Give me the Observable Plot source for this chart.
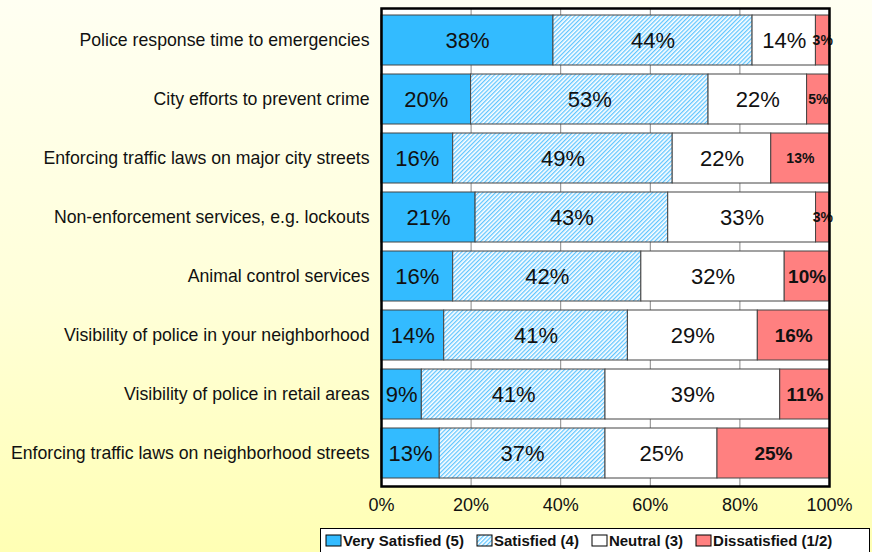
<!DOCTYPE html>
<html>
<head>
<meta charset="utf-8">
<script src="https://cdn.jsdelivr.net/npm/d3@7"></script>
<script src="https://cdn.jsdelivr.net/npm/@observablehq/plot@0.6"></script>
<style>
  html, body { margin: 0; padding: 0; }
  body {
    width: 872px; height: 552px; overflow: hidden;
    background: linear-gradient(to bottom, #fffff2 0%, #ffffd8 55%, #ffffb4 100%);
    font-family: "Liberation Sans", Arial, sans-serif;
  }
  #chart svg { display: block; background: transparent; }
  #legend {
    margin-left: 320px; width: 550px; height: 25px;
    border: 1.5px solid #000; background: #fff;
    display: flex; align-items: center; gap: 12px;
    padding-left: 4px; box-sizing: border-box;
    font: bold 15px "Liberation Sans", Arial, sans-serif; color: #111;
  }
  #legend .item { display: flex; align-items: center; gap: 1px; }
  #legend svg { display: block; }
</style>
</head>
<body>
<div id="chart"></div>
<div id="legend"></div>
<script>
const categories = [
  "Police response time to emergencies",
  "City efforts to prevent crime",
  "Enforcing traffic laws on major city streets",
  "Non-enforcement services, e.g. lockouts",
  "Animal control services",
  "Visibility of police in your neighborhood",
  "Visibility of police in retail areas",
  "Enforcing traffic laws on neighborhood streets"
];
const series = ["Very Satisfied (5)", "Satisfied (4)", "Neutral (3)", "Dissatisfied (1/2)"];
const verySatisfied = [38, 20, 16, 21, 16, 14, 9, 13];
const satisfied     = [44, 53, 49, 43, 42, 41, 41, 37];
const neutral       = [14, 22, 22, 33, 32, 29, 39, 25];
const dissatisfied  = [3, 5, 13, 3, 10, 16, 11, 25];
const xTicks = [0, 20, 40, 60, 80, 100];

const seriesColors = ["#33bbff", "url(#hatchBlue)", "#ffffff", "#ff8080"];
const seriesValues = [verySatisfied, satisfied, neutral, dissatisfied];

const rows = [];
categories.forEach((c, i) => {
  series.forEach((s, j) => {
    rows.push({category: c, series: s, value: seriesValues[j][i]});
  });
});

const stackOpts = (extra) => Plot.stackX({
  x: "value", y: "category", z: "series", offset: "normalize", ...extra
});
const tickFrac = xTicks.map(d => d / 100);

const plot = Plot.plot({
  width: 872,
  height: 528,
  marginLeft: 381,
  marginRight: 43,
  marginTop: 8,
  marginBottom: 42,
  style: {fontFamily: "'Liberation Sans', Arial, sans-serif", background: "transparent", color: "#111"},
  x: {domain: [0, 1]},
  y: {domain: categories, paddingInner: 0.15, paddingOuter: 0.08, label: null},
  color: {domain: series, range: seriesColors},
  marks: [
    Plot.frame({fill: "white", stroke: null}),
    Plot.gridX(tickFrac.slice(1, -1), {stroke: "#888", strokeOpacity: 1, strokeWidth: 1}),
    Plot.barX(rows, stackOpts({fill: "series", stroke: "#444", strokeWidth: 1})),
    Plot.text(rows, stackOpts({
      text: d => d.series !== series[3] ? d.value + "%" : "",
      fontSize: 22, fill: "#111"
    })),
    Plot.text(rows, stackOpts({
      text: d => d.series === series[3] ? d.value + "%" : "",
      fontSize: d => (d.value <= 5 || d.value === 13) ? 14 : 19,
      fontWeight: "bold", fill: "#111"
    })),
    Plot.frame({stroke: "#000", strokeWidth: 2.5}),
    Plot.axisX(tickFrac, {
      tickSize: 0, tickPadding: 12, fontSize: 18, label: null,
      tickFormat: d => Math.round(d * 100) + "%"
    }),
    Plot.axisY({tickSize: 0, tickPadding: 12, fontSize: 17.7, label: null})
  ]
});

// pattern defs for the hatched "Satisfied" series
const ns = "http://www.w3.org/2000/svg";
function addPattern(svg) {
  const defs = document.createElementNS(ns, "defs");
  defs.innerHTML = `
    <pattern id="hatchBlue" patternUnits="userSpaceOnUse" width="3" height="3" patternTransform="rotate(45)">
      <rect width="3" height="3" fill="#ffffff"></rect>
      <line x1="0.7" y1="0" x2="0.7" y2="3" stroke="#44bbff" stroke-width="1.1"></line>
    </pattern>`;
  svg.insertBefore(defs, svg.firstChild);
}
addPattern(plot);
document.getElementById("chart").appendChild(plot);

// legend
const legend = document.getElementById("legend");
series.forEach((s, j) => {
  const item = document.createElement("div");
  item.className = "item";
  const sw = document.createElementNS(ns, "svg");
  sw.setAttribute("width", 17); sw.setAttribute("height", 13);
  const r = document.createElementNS(ns, "rect");
  r.setAttribute("x", 1); r.setAttribute("y", 1);
  r.setAttribute("width", 15); r.setAttribute("height", 11);
  r.setAttribute("fill", seriesColors[j]);
  r.setAttribute("stroke", "#000"); r.setAttribute("stroke-width", 1);
  sw.appendChild(r);
  item.appendChild(sw);
  const t = document.createElement("span");
  t.textContent = s;
  item.appendChild(t);
  legend.appendChild(item);
});
</script>
</body>
</html>
